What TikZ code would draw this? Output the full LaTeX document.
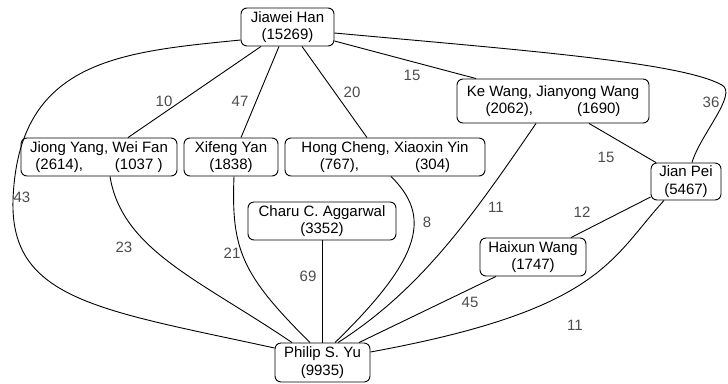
\documentclass[tikz,border=0pt]{standalone}
\usepackage{fontspec}
\setmainfont{Liberation Sans}
\begin{document}
\begin{tikzpicture}[x=1bp,y=-1bp,
  every node/.style={font=\fontsize{15bp}{17.5bp}\selectfont},
  box/.style={draw, rounded corners=6bp, line width=0.9bp, fill=white, align=center, inner sep=0pt, minimum height=38bp},
  conn/.style={line width=0.9bp},
  lbl/.style={text=black!70, inner sep=0pt}]
\useasboundingbox (0,0) rectangle (728,383);
% nodes
\node[box, minimum width=93bp] (han) at (287.5,27) {Jiawei Han\\(15269)};
\node[box, minimum width=156bp] (jiong) at (99,157) {Jiong Yang, Wei Fan\\(2614),\hspace{32bp}(1037\ )};
\node[box, minimum width=94bp] (xifeng) at (231,157) {Xifeng Yan\\(1838)};
\node[box, minimum width=200bp] (hong) at (385,157) {Hong Cheng, Xiaoxin Yin\\(767),\hspace{56bp}(304)};
\node[box, minimum width=192bp, minimum height=44bp] (ke) at (553,101) {Ke Wang, Jianyong Wang\\(2062),\hspace{44bp}(1690)};
\node[box, minimum width=70bp, minimum height=37bp] (jian) at (686,181.5) {Jian Pei\\(5467)};
\node[box, minimum width=148bp] (charu) at (322,221) {Charu C. Aggarwal\\(3352)};
\node[box, minimum width=106bp] (haixun) at (533,257) {Haixun Wang\\(1747)};
\node[box, minimum width=95bp, minimum height=39bp] (philip) at (322.5,362.5) {Philip S. Yu\\(9935)};
% connectors
\draw[conn] (261,0 |- han.south) -- (128,0 |- jiong.north);
\draw[conn] (279,0 |- han.south) -- (241,0 |- xifeng.north);
\draw[conn] (302,0 |- han.south) -- (367,0 |- hong.north);
\draw[conn] (han.east |- 0,41) -- (476,0 |- ke.north);
\draw[conn] (han.east |- 0,33) .. controls (520,50) and (680,62) .. (722,85)
  .. controls (738,94) and (700,135) .. (692,0 |- jian.north);
\draw[conn] (han.west |- 0,40) .. controls (120,52) and (18,60) .. (13,200)
  .. controls (10,300) and (100,310) .. (philip.west |- 0,348);
\draw[conn] (110,0 |- jiong.south) .. controls (122,250) and (200,280) .. (292,0 |- philip.north);
\draw[conn] (234,0 |- xifeng.south) .. controls (231,250) and (242,275) .. (310,0 |- philip.north);
\draw[conn] (charu.south) -- (charu.south |- philip.north);
\draw[conn] (391,0 |- hong.south) .. controls (430,215) and (425,255) .. (335,0 |- philip.north);
\draw[conn] (536,0 |- ke.south) .. controls (470,220) and (420,290) .. (338,0 |- philip.north);
\draw[conn] (589,0 |- ke.south) -- (656,0 |- jian.north);
\draw[conn] (jian.west |- 0,197) -- (571,0 |- haixun.north);
\draw[conn] (496,0 |- haixun.south) -- (359,0 |- philip.north);
\draw[conn] (664,0 |- jian.south) .. controls (610,260) and (600,310) .. (philip.east |- 0,352);
% labels
\node[lbl] (l10) at (164,101) {10};
\node[lbl] (l47) at (240,101) {47};
\node[lbl] (l20) at (352,92) {20};
\node[lbl] (l15a) at (412,75) {15};
\node[lbl] (l36) at (711,102) {36};
\node[lbl] (l15b) at (606,157) {15};
\node[lbl] (l43) at (22,197) {43};
\node[lbl] (l23) at (124,247) {23};
\node[lbl] (l21) at (232,253) {21};
\node[lbl] (l69) at (308,276) {69};
\node[lbl] (l8) at (427,222) {8};
\node[lbl] (l11a) at (496,207) {11};
\node[lbl] (l12) at (582,212) {12};
\node[lbl] (l45) at (470,302) {45};
\node[lbl] (l11b) at (575,325) {11};
\end{tikzpicture}
\end{document}
